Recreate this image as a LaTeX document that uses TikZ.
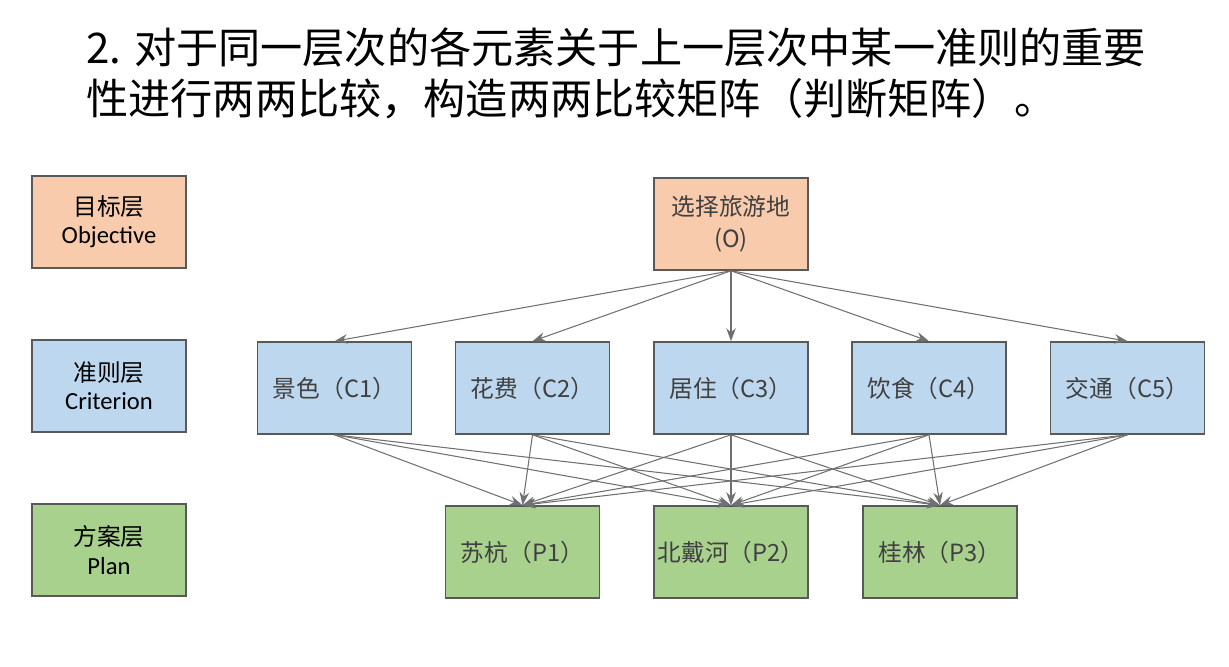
\documentclass[tikz,border=0pt]{standalone}
\usepackage{fontspec}
\setmainfont{Noto Sans CJK SC}
\newfontfamily\latinsans{Carlito}
\usetikzlibrary{arrows.meta,positioning}
\definecolor{objC}{RGB}{248,203,173}
\definecolor{criC}{RGB}{189,215,238}
\definecolor{plaC}{RGB}{169,209,142}
\definecolor{bordC}{RGB}{89,89,89}
\definecolor{arrC}{RGB}{112,112,112}
\tikzset{
  layer/.style={rectangle, draw=bordC, line width=0.9pt, fill=#1,
                align=center, font=\fontsize{13.5}{16}\selectfont,
                minimum width=3.08cm, minimum height=1.84cm, inner sep=0pt},
  elem/.style={rectangle, draw=bordC, line width=0.9pt, fill=#1,
               align=center, font=\fontsize{13.5}{18}\selectfont, text=black!75,
               minimum width=3.08cm, minimum height=1.84cm, inner sep=0pt},
  arr/.style={-{Stealth[length=2.6mm, width=1.9mm]}, line width=0.6pt, draw=arrC},
}

\begin{document}
\begin{tikzpicture}[x=0.02cm, y=-0.02cm]
        \useasboundingbox (0,0) rectangle (1229,666);
        % title
        \node[anchor=north west, align=left, inner sep=0pt,
              font=\fontsize{24}{29.5}\selectfont] (title) at (86,27)
          {2. 对于同一层次的各元素关于上一层次中某一准则的重要\\性进行两两比较，构造两两比较矩阵（判断矩阵）。};
        % layers on the left
        \node[layer=objC] (lo) at (109,222) {目标层\\{\latinsans\fontsize{14}{16}\selectfont Objective}};
        \node[layer=criC] (lc) at (109,386) {准则层\\{\latinsans\fontsize{14}{16}\selectfont Criterion}};
        \node[layer=plaC] (lp) at (109,550) {方案层\\{\latinsans\fontsize{14}{16}\selectfont Plan}};
        % goal
        \node[elem=objC] (o) at (731,224) {选择旅游地\\(O)};
        % criteria
        \node[elem=criC] (c1) at (334.5,388) {景色（C1）};
        \node[elem=criC] (c2) at (532.5,388) {花费（C2）};
        \node[elem=criC] (c3) at (731,388) {居住（C3）};
        \node[elem=criC] (c4) at (929,388) {饮食（C4）};
        \node[elem=criC] (c5) at (1127.5,388) {交通（C5）};
        % plans
        \node[elem=plaC] (p1) at (522.5,552) {苏杭（P1）};
        \node[elem=plaC] (p2) at (731,552) {北戴河（P2）};
        \node[elem=plaC] (p3) at (940,552) {桂林（P3）};
        \foreach \c in {c1,c2,c3,c4,c5} {
          \draw[arr] (o.south) -- (\c.north);
          \foreach \p in {p1,p2,p3}
            \draw[arr] (\c.south) -- (\p.north);
        }
      \end{tikzpicture}
\end{document}
